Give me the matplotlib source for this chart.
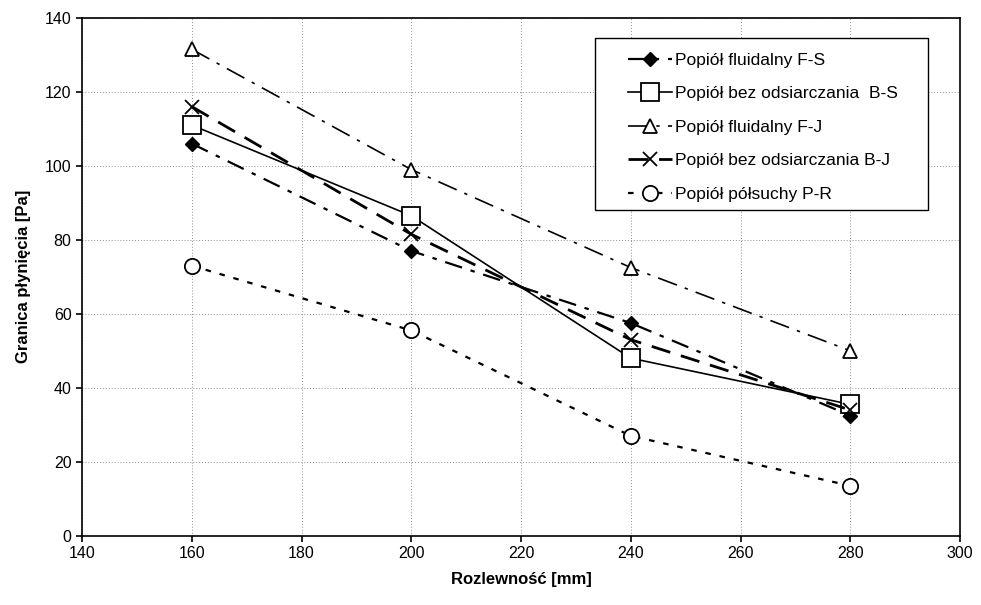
import numpy as np
import matplotlib.pyplot as plt
from matplotlib.patches import Rectangle

plt.rcParams['font.family'] = ['Liberation Sans', 'DejaVu Sans']

# rozlewność [mm]
x = [160, 200, 240, 280]

fs = [106.0, 77.0, 57.5, 32.5]   # Popiół fluidalny F-S
bs = [111.0, 86.5, 48.0, 35.5]   # Popiół bez odsiarczania B-S
fj = [131.5, 99.0, 72.5, 50.0]   # Popiół fluidalny F-J
bj = [116.0, 81.5, 53.0, 34.0]   # Popiół bez odsiarczania B-J
pr = [73.0, 55.5, 27.0, 13.5]    # Popiół półsuchy P-R

labels = ['Popiół fluidalny F-S', 'Popiół bez odsiarczania  B-S',
          'Popiół fluidalny F-J', 'Popiół bez odsiarczania B-J',
          'Popiół półsuchy P-R']

fig = plt.figure(figsize=(9.81, 6.05), dpi=100)
ax = fig.add_axes([0.0836, 0.1145, 0.895, 0.856])

ax.plot(x, fs, color='black', lw=1.6, ls=(0, (8, 4, 2, 4)), marker='D',
        ms=7.5, mfc='black', mec='black', label=labels[0])
ax.plot(x, bs, color='black', lw=1.2, ls='-', marker='s', ms=12.5,
        mfc='white', mec='black', mew=1.3, label=labels[1])
ax.plot(x, fj, color='black', lw=1.2, ls=(0, (12, 5, 2, 5)), marker='^',
        ms=10.5, mfc='white', mec='black', mew=1.3, label=labels[2])
ax.plot(x, bj, color='black', lw=2.0, ls=(0, (7, 4)), marker='x', ms=10,
        mec='black', mew=1.3, label=labels[3])
ax.plot(x, pr, color='black', lw=1.6, ls=(0, (2.5, 4)), marker='o', ms=11,
        mfc='white', mec='black', mew=1.3, label=labels[4])

ax.set_xlim(140, 300)
ax.set_ylim(0, 140)
ax.set_xticks(np.arange(140, 301, 20))
ax.set_yticks(np.arange(0, 141, 20))
ax.tick_params(labelsize=11.5, direction='out', length=4, width=1.2)
ax.grid(True, ls=(0, (1, 2)), color='#909090', lw=0.7)
for s in ax.spines.values():
    s.set_linewidth(1.2)

ax.set_xlabel('Rozlewność [mm]', fontsize=12, fontweight='bold', labelpad=8)
ax.set_ylabel('Granica płynięcia [Pa]', fontsize=12, fontweight='bold', labelpad=10)

# ramka legendy rysowana osobno
box = Rectangle((0.584, 0.629), 0.38, 0.332, transform=ax.transAxes,
                facecolor='white', edgecolor='black', lw=1.0, zorder=4.5)
ax.add_patch(box)
leg = ax.legend(loc='upper left', bbox_to_anchor=(0.622, 0.933), fontsize=12.5,
                frameon=False, labelspacing=1.06, borderpad=0, handlelength=2.5,
                handletextpad=0.2, borderaxespad=0)
leg.set_zorder(5)

fig.savefig('out.png', dpi=100)
